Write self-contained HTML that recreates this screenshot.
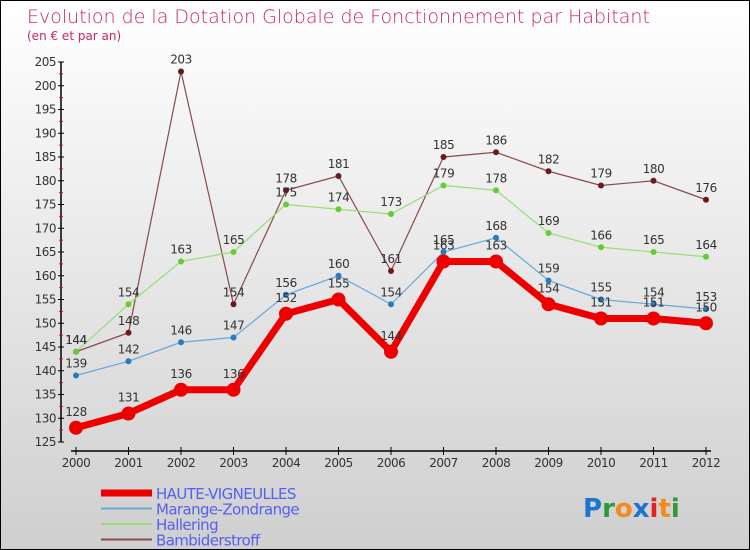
<!DOCTYPE html>
<html><head><meta charset="utf-8"><style>
html,body{margin:0;padding:0}
body{width:750px;height:550px;overflow:hidden;font-family:"DejaVu Sans","Liberation Sans",sans-serif}
#wrap{position:relative;width:748px;height:548px;border:1px solid #000;background:linear-gradient(#ffffff,#cfcfcf)}
</style></head><body>
<div id="wrap">
<svg id="chart" width="748" height="548" style="position:absolute;left:0;top:0">
<text x="26" y="22" font-size="19" fill="#c8285a" font-weight="300">Evolution de la Dotation Globale de Fonctionnement par Habitant</text>
<text x="26" y="39" font-size="12" fill="#c8285a">(en € et par an)</text>
<g id="axes"></g><g id="series"></g><g id="legend"></g>
<g font-family="'DejaVu Sans',sans-serif" font-size="26" font-weight="bold">
<text x="582" y="516"><tspan fill="#1a74d0">P</tspan><tspan fill="#2a9a3a">r</tspan><tspan fill="#f58a1a">o</tspan><tspan fill="#1a74d0">x</tspan><tspan fill="#e82020">i</tspan><tspan fill="#f58a1a">t</tspan><tspan fill="#2a9a3a">i</tspan></text>
</g>
</svg>
</div>
<script>
const years=[2000,2001,2002,2003,2004,2005,2006,2007,2008,2009,2010,2011,2012];
const haute=[128,131,136,136,152,155,144,163,163,154,151,151,150];
const marange=[139,142,146,147,156,160,154,165,168,159,155,154,153];
const hallering=[144,154,163,165,175,174,173,179,178,169,166,165,164];
const bamb=[144,148,203,154,178,181,161,185,186,182,179,180,176];
const yTicks=[125,130,135,140,145,150,155,160,165,170,175,180,185,190,195,200,205];
const NS="http://www.w3.org/2000/svg";
const xs=i=>75+i*52.5;
const ys=v=>441-(v-125)*4.75;
function mk(tag,attrs,parent){const e=document.createElementNS(NS,tag);for(const k in attrs)e.setAttribute(k,attrs[k]);parent.appendChild(e);return e;}
const ax=document.getElementById('axes');
let l=mk('line',{x1:60,y1:ys(205),x2:60,y2:ys(125),stroke:'#000','stroke-width':1.5},ax);


yTicks.forEach(v=>{
 mk('line',{x1:57,y1:ys(v),x2:63,y2:ys(v),stroke:'#000'},ax);
 if(v<205) mk('line',{x1:58,y1:ys(v+2.5),x2:62,y2:ys(v+2.5),stroke:'#e00'},ax);
 const t=mk('text',{x:55,y:ys(v)+4,'font-size':12,fill:'#333','text-anchor':'end','letter-spacing':'-0.5'},ax);
 t.textContent=v;
 
 
});
l=mk('line',{x1:70,y1:450,x2:710,y2:450,stroke:'#000','stroke-width':1.5},ax);


years.forEach((y,i)=>{
 mk('line',{x1:xs(i),y1:446,x2:xs(i),y2:454,stroke:'#000'},ax);
 const t=mk('text',{x:xs(i),y:466,'font-size':12,fill:'#333','text-anchor':'middle','letter-spacing':'-0.5'},ax);
 t.textContent=y;
 
 
});
const series=[
 {d:bamb,c:'#6a1a1a',lc:'#8a4a4a',w:1.2,r:3,name:'bambiderstroff'},
 {d:hallering,c:'#66cc33',lc:'#99dd77',w:1.2,r:3,name:'hallering'},
 {d:marange,c:'#2a7ac0',lc:'#6aa8d8',w:1.2,r:3,name:'marange-zondrange'},
 {d:haute,c:'#ee0000',lc:'#ee0000',w:7,r:7,name:'haute-vigneulles'}];
const sg=document.getElementById('series');
series.forEach(s=>{
 const g=mk('g',{},sg);
 
 
 const p=mk('polyline',{points:s.d.map((v,i)=>xs(i)+','+ys(v)).join(' '),fill:'none',stroke:s.lc,'stroke-width':s.w},g);
 
 
 s.d.forEach((v,i)=>{
  const c=mk('circle',{cx:xs(i),cy:ys(v),r:s.r,fill:s.c},g);
  
  
  const t=mk('text',{x:xs(i),y:ys(v)-(s.r+5),'font-size':12,fill:'#333','text-anchor':'middle','letter-spacing':'-0.5'},g);
  t.textContent=v;
  
  
 });
});
const lg=document.getElementById('legend');
const leg=[['HAUTE-VIGNEULLES','#ee0000',7],['Marange-Zondrange','#6aa8d8',2],['Hallering','#99dd77',2],['Bambiderstroff','#8a4a4a',2]];
leg.forEach((e,i)=>{
 const y=492+i*15.5;
 const g=mk('g',{},lg);
 
 
 mk('line',{x1:100,y1:y,x2:151,y2:y,stroke:e[1],'stroke-width':e[2]},g);
 const t=mk('text',{x:155,y:y+6,'font-size':15,fill:'#5560ee','letter-spacing':'-0.6'},g);
 t.textContent=e[0];
});
</script>
</body></html>
